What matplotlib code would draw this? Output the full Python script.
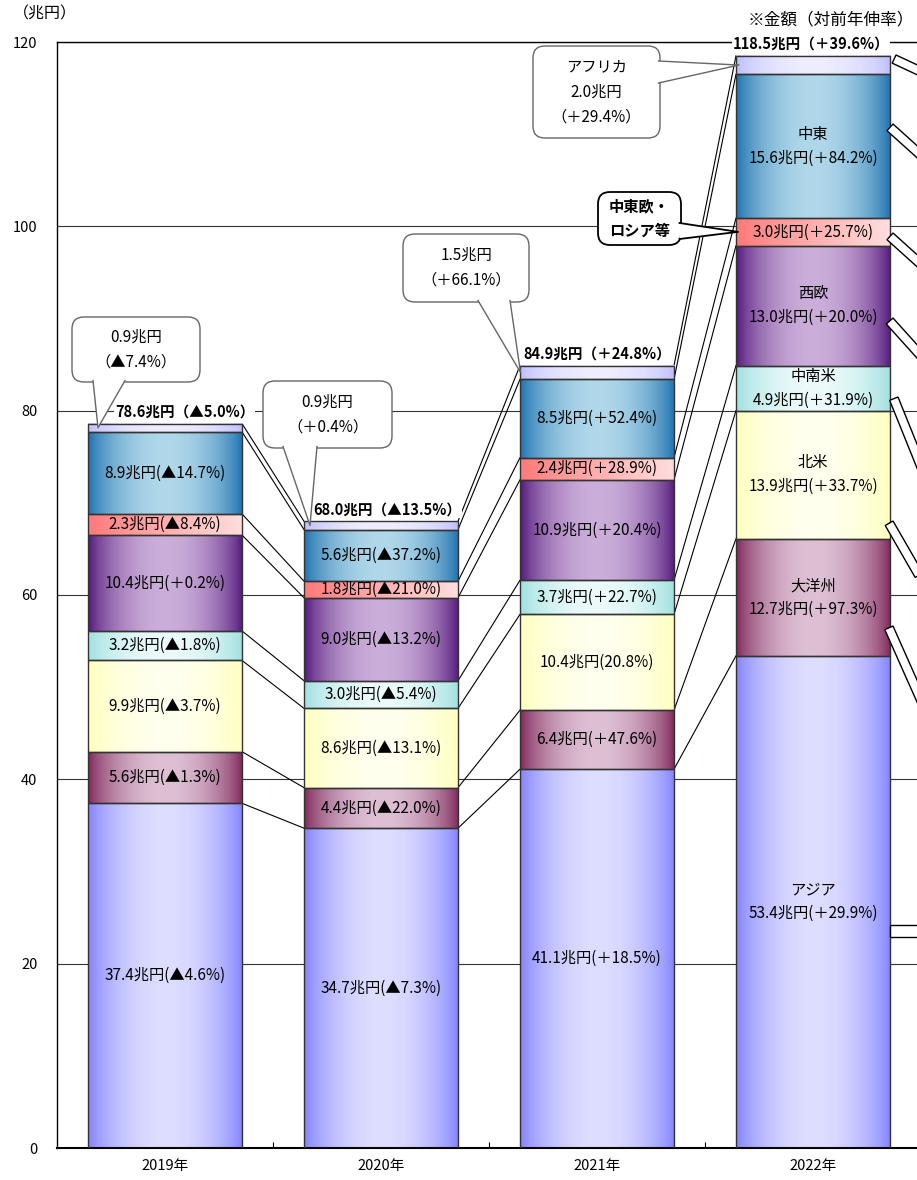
import matplotlib
matplotlib.use('Agg')
import matplotlib.pyplot as plt
import numpy as np
from matplotlib.patches import FancyBboxPatch, Polygon, Rectangle
from matplotlib.lines import Line2D
from matplotlib.transforms import Affine2D

plt.rcParams['font.family'] = ['Noto Sans CJK JP', 'DejaVu Sans']

# データ（兆円）
years = ['2019年', '2020年', '2021年', '2022年']
regions = ['アジア', '大洋州', '北米', '中南米', '西欧', '中東欧・ロシア等', '中東', 'アフリカ']

asia = [37.4, 34.7, 41.1, 53.4]
asia_g = ['▲4.6%', '▲7.3%', '＋18.5%', '＋29.9%']
oceania = [5.6, 4.4, 6.4, 12.7]
oceania_g = ['▲1.3%', '▲22.0%', '＋47.6%', '＋97.3%']
n_america = [9.9, 8.6, 10.4, 13.9]
n_america_g = ['▲3.7%', '▲13.1%', '20.8%', '＋33.7%']
latin = [3.2, 3.0, 3.7, 4.9]
latin_g = ['▲1.8%', '▲5.4%', '＋22.7%', '＋31.9%']
w_europe = [10.4, 9.0, 10.9, 13.0]
w_europe_g = ['＋0.2%', '▲13.2%', '＋20.4%', '＋20.0%']
ce_europe = [2.3, 1.8, 2.4, 3.0]
ce_europe_g = ['▲8.4%', '▲21.0%', '＋28.9%', '＋25.7%']
mideast = [8.9, 5.6, 8.5, 15.6]
mideast_g = ['▲14.7%', '▲37.2%', '＋52.4%', '＋84.2%']
africa = [0.9, 0.9, 1.5, 2.0]
africa_g = ['▲7.4%', '＋0.4%', '＋66.1%', '＋29.4%']

totals = [78.6, 68.0, 84.9, 118.5]
totals_g = ['▲5.0%', '▲13.5%', '＋24.8%', '＋39.6%']

series = [asia, oceania, n_america, latin, w_europe, ce_europe, mideast, africa]
growth = [asia_g, oceania_g, n_america_g, latin_g, w_europe_g, ce_europe_g, mideast_g, africa_g]

# グラデーション（端の色, 中央の色, 方式）
styles = [
    ((125, 125, 255), (222, 222, 255), 'sym'),
    ((122, 32, 85), (222, 192, 212), 'sym'),
    ((255, 255, 185), (255, 255, 238), 'sym'),
    ((155, 222, 222), (236, 250, 250), 'sym'),
    ((78, 18, 120), (204, 174, 218), 'sym'),
    ((255, 120, 120), (255, 222, 222), 'lin'),
    ((22, 108, 172), (176, 216, 234), 'sym'),
    ((188, 188, 250), (238, 238, 255), 'sym'),
]


def gradient(edge, mid, mode):
    t = np.linspace(0, 1, 256)
    s = np.sin(np.pi * t) ** 0.7 if mode == 'sym' else t ** 0.9
    e = np.array(edge) / 255
    m = np.array(mid) / 255
    rgb = e[None, :] * (1 - s[:, None]) + m[None, :] * s[:, None]
    return rgb[None, :, :]


W, H = 917, 1180
fig = plt.figure(figsize=(W / 100, H / 100), dpi=100)
ax = fig.add_axes([57 / W, 32 / H, 864 / W, 1106 / H])
PX = Affine2D().scale(1 / W, -1 / H).translate(0, 1) + fig.transFigure

x = np.arange(len(years))
bw = 0.713
bottoms = np.zeros(len(years))
cums = [bottoms.copy()]
for i, vals in enumerate(series):
    bars = ax.bar(x, vals, bw, bottom=bottoms, facecolor='none',
                  edgecolor='#333333', linewidth=1, zorder=3)
    grad = gradient(*styles[i])
    for j, b in enumerate(bars):
        ax.imshow(grad, extent=(b.get_x(), b.get_x() + b.get_width(),
                                b.get_y(), b.get_y() + b.get_height()),
                  aspect='auto', interpolation='bilinear', zorder=2)
        if i == 7:
            continue
        label = f'{vals[j]:.1f}兆円({growth[i][j]})'
        if j == 3 and i != 5:
            label = regions[i] + '\n' + label
        ax.text(x[j], b.get_y() + b.get_height() / 2, label, ha='center',
                va='center', fontsize=11, linespacing=1.5, zorder=4)
    bottoms = bottoms + np.array(vals)
    cums.append(bottoms.copy())

# 年の間の連結線
for j in range(len(years) - 1):
    for k in range(1, len(cums)):
        ax.plot([x[j] + bw / 2, x[j + 1] - bw / 2], [cums[k][j], cums[k][j + 1]],
                color='black', linewidth=0.8, zorder=1.5)

ax.set_xlim(-0.5, 3.5)
ax.set_ylim(0, 120)
ax.set_yticks(range(0, 121, 20))
ax.set_xticks(x)
ax.set_xticklabels(years)
ax.set_xticks([0.5, 1.5, 2.5], minor=True)
ax.tick_params(axis='y', length=0, pad=14, labelsize=10.5)
ax.tick_params(axis='x', which='major', length=0, pad=8, labelsize=10.5)
ax.tick_params(axis='x', which='minor', direction='in', length=4, width=0.8)
ax.set_axisbelow(True)
ax.yaxis.grid(True, color='#333333', linewidth=0.8)
for side in ['left', 'top', 'right']:
    ax.spines[side].set_linewidth(1)
ax.spines['bottom'].set_linewidth(1.5)


def data_to_px(xd, yd):
    f = fig.transFigure.inverted().transform(ax.transData.transform((xd, yd)))
    return f[0] * W, (1 - f[1]) * H


def callout(box, base, tip, text, ec='#666666', lw=1.0, weight='normal'):
    x0, y0, x1, y1 = box
    ax.add_artist(FancyBboxPatch((x0, y0), x1 - x0, y1 - y0,
                                 boxstyle='round,pad=0,rounding_size=12',
                                 transform=PX, fc='white', ec=ec, lw=lw,
                                 zorder=8, clip_on=False))
    ax.add_artist(Polygon([base[0], tip, base[1]], closed=True, transform=PX,
                          fc='white', ec='none', zorder=9, clip_on=False))
    ax.add_artist(Line2D([base[0][0], tip[0], base[1][0]],
                         [base[0][1], tip[1], base[1][1]], transform=PX,
                         color=ec, lw=lw, zorder=9, clip_on=False))
    ax.text((x0 + x1) / 2, (y0 + y1) / 2, text, transform=PX,
            ha='center', va='center', fontsize=11, linespacing=1.6,
            fontweight=weight, zorder=10)


af_mid = [cums[7][j] + africa[j] / 2 for j in range(4)]
tip_off = [10 / 216, 6 / 216, 0.5 / 216, 3 / 216]
tips = [data_to_px(x[j] - bw / 2 + tip_off[j], af_mid[j]) for j in range(4)]

callout((72, 317, 200, 382), [(93, 380.5), (125, 380.5)], tips[0],
        f'{africa[0]}兆円\n（{africa_g[0]}）')
callout((263, 381, 392, 448), [(283, 446.5), (317, 446.5)], tips[1],
        f'{africa[1]}兆円\n（{africa_g[1]}）')
callout((403, 234, 529, 302), [(478, 300.5), (510, 300.5)], tips[2],
        f'{africa[2]}兆円\n（{africa_g[2]}）')
callout((533, 46, 660, 138), [(658.5, 61), (658.5, 83)], tips[3],
        f'アフリカ\n{africa[3]}兆円\n（{africa_g[3]}）')
ce_tip = data_to_px(x[3] - bw / 2 + 2 / 216, cums[5][3] + ce_europe[3] / 2)
callout((598, 192, 681, 245), [(679.5, 223), (679.5, 239)], ce_tip,
        '中東欧・\nロシア等', ec='black', lw=1.3, weight='bold')

# 合計（ラベル位置の横ずれは元図どおり）
tot_dx = [0.09, 0.03, 0.0, -0.01]
for j in range(len(years)):
    ax.text(x[j] + tot_dx[j], totals[j] + 0.45, f'{totals[j]:.1f}兆円（{totals_g[j]}）',
            ha='center', va='bottom', fontsize=10.5, fontweight='bold', zorder=11,
            bbox=dict(boxstyle='square,pad=0.05', fc='white', ec='none'))

# 右端で切れている凡例の図形
for sx, sy, ang, ln, th in [(896, 55, 25, 60, 9), (893, 124, 42, 60, 9),
                            (893, 233, 42, 60, 9), (893, 318, 48, 60, 9),
                            (898, 397, 68, 90, 9), (893, 521, 60, 60, 9),
                            (893, 626, 66, 90, 9), (890, 925, 0, 40, 12)]:
    fig.add_artist(Rectangle((sx, sy), ln, th, angle=ang, transform=PX,
                             fc='white', ec='black', lw=1, zorder=7))

fig.text(45 / W, 1 - 14 / H, '（兆円）', ha='center', va='center', fontsize=11.5)
fig.text(914 / W, 1 - 20 / H, '※金額（対前年伸率）', ha='right', va='center', fontsize=12)

fig.savefig('out.png', dpi=100)
